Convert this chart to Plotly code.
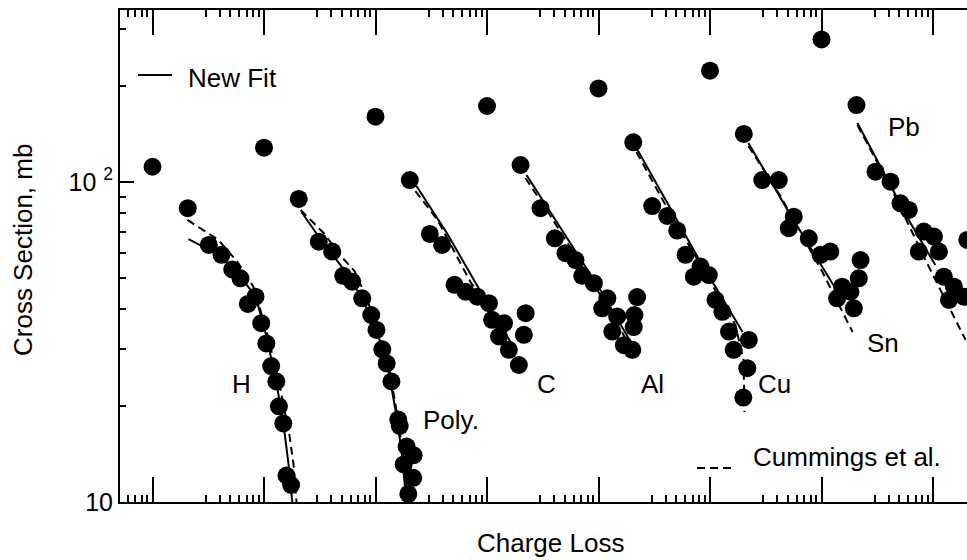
import plotly.graph_objects as go

# ---------------- data ----------------
targets = ["H", "Poly.", "C", "Al", "Cu", "Sn", "Pb"]
offsets = [1, 10, 100, 1000, 10000, 100000, 1000000]   # horizontal shift of each target (decades)
total_cs = [111.6, 128, 160, 172.8, 196, 222.8, 279]    # large dot at charge loss 1

H_dz = [2.07, 3.20, 4.16, 5.19, 6.15, 7.16, 8.39, 9.44, 10.5, 11.6, 12.9, 13.6, 14.9, 15.9, 17.5]
H_cs = [82.8, 63.6, 59.2, 53.3, 50.0, 41.6, 43.8, 36.2, 31.3, 26.6, 23.8, 19.9, 17.6, 12.1, 11.3]
Poly_dz = [2.05, 3.10, 4.09, 5.13, 6.18, 7.60, 9.15, 10.2, 11.5, 12.6, 13.9, 16.0, 16.5, 17.9, 19.0, 19.7, 21.8, 22.0]
Poly_cs = [88.5, 65.1, 60.6, 50.9, 48.8, 43.3, 38.4, 34.5, 30.0, 27.1, 23.8, 18.1, 17.3, 13.1, 14.9, 10.6, 11.9, 14.0]
C_dz = [2.03, 3.07, 3.96, 5.11, 6.42, 8.17, 10.4, 11.1, 12.8, 14.2, 15.7, 19.3, 21.4, 22.2]
C_cs = [101.4, 68.8, 63.6, 47.7, 45.4, 43.8, 41.8, 37.1, 32.9, 36.2, 29.9, 26.8, 33.3, 38.9]
Al_dz = [2.0, 3.02, 4.06, 5.06, 6.22, 7.14, 9.08, 10.8, 12.0, 13.3, 14.7, 16.9, 20.1, 20.7, 21.0, 22.2]
Al_cs = [113.0, 82.8, 66.7, 59.9, 57.0, 50.9, 48.3, 40.3, 43.3, 34.1, 38.0, 30.9, 29.9, 35.2, 38.4, 43.7]
Cu_dz = [2.05, 3.03, 4.13, 5.08, 6.03, 7.16, 8.22, 9.76, 11.2, 12.9, 14.8, 16.3, 19.9, 21.6, 22.3]
Cu_cs = [133.0, 84.1, 78.3, 70.5, 59.2, 50.6, 54.4, 51.2, 42.8, 39.3, 34.1, 29.9, 21.2, 26.2, 32.1]
Sn_dz = [2.01, 2.94, 4.14, 5.09, 5.64, 7.69, 9.80, 12.0, 13.8, 15.3, 18.2, 19.5, 21.6, 22.4]
Sn_cs = [141.3, 101.4, 101.4, 71.7, 77.9, 66.7, 59.2, 60.6, 43.3, 47.1, 45.4, 40.3, 50.0, 57.0]
Pb_dz = [2.06, 3.05, 4.16, 5.11, 6.07, 7.46, 8.27, 10.2, 11.3, 12.5, 13.9, 15.4, 18.9, 20.3]
Pb_cs = [174.0, 107.7, 100.2, 85.8, 81.8, 60.6, 70.0, 67.5, 60.6, 50.6, 42.8, 47.1, 43.8, 65.9]

# "New Fit" curves (solid)
H_fit_dz = [2.10, 2.87, 4.16, 6.15, 8.39, 10.5, 12.9, 15.0, 16.6, 18.0]
H_fit_cs = [66.3, 62.7, 58.3, 50.5, 44.0, 33.0, 23.7, 17.4, 13.1, 9.9]
Poly_fit_dz = [2.17, 3.02, 4.85, 7.33, 10.2, 12.8, 15.1, 17.1, 19.0]
Poly_fit_cs = [80.6, 68.3, 55.0, 44.3, 34.5, 26.8, 19.4, 14.5, 9.9]
C_fit_dz = [2.33, 4.42, 8.39, 13.2, 16.9]
C_fit_cs = [97.2, 68.8, 46.6, 35.7, 30.9]
Al_fit_dz = [2.26, 5.61, 10.4, 18.6]
Al_fit_cs = [105.2, 64.5, 46.0, 32.5]
Cu_fit_dz = [2.19, 3.99, 8.22, 19.6]
Cu_fit_cs = [127.7, 87.8, 56.2, 34.0]
Sn_fit_dz = [2.21, 5.27, 13.1]
Sn_fit_cs = [132.4, 78.9, 47.0]
Pb_fit_dz = [2.10, 4.16, 6.28, 10.5]
Pb_fit_cs = [152.9, 97.9, 74.5, 55.0]

# "Cummings et al." curves (dashed)
H_cum_dz = [2.06, 2.69, 3.91, 5.79, 8.05, 10.5, 13.8, 16.9, 18.4, 19.6]
H_cum_cs = [76.1, 71.8, 65.9, 56.2, 47.0, 34.5, 23.2, 16.2, 13.1, 9.9]
Poly_cum_dz = [2.13, 2.72, 3.42, 5.06, 6.48, 8.13, 10.4, 13.1, 15.4, 17.5, 19.4]
Poly_cum_cs = [81.8, 75.0, 69.3, 57.9, 52.7, 44.3, 35.0, 26.8, 19.4, 14.5, 9.9]
C_cum_dz = [2.28, 3.60, 7.11, 15.3]
C_cum_cs = [93.7, 76.1, 48.7, 34.0]
Al_cum_dz = [2.21, 3.35, 5.38, 10.0, 17.8]
Al_cum_cs = [102.9, 82.9, 63.6, 45.3, 32.1]
Cu_cum_dz = [2.19, 3.99, 8.22, 16.9, 20.0, 20.4]
Cu_cum_cs = [124.1, 84.7, 55.0, 35.7, 27.8, 19.1]
Sn_cum_dz = [2.21, 4.29, 10.2, 19.0]
Sn_cum_cs = [129.6, 90.4, 52.3, 34.0]
Pb_cum_dz = [2.10, 4.42, 8.57, 19.6]
Pb_cum_cs = [150.6, 92.4, 57.0, 32.1]

y_tick_vals = [10, 100]
y_tick_text = ["10", "10 <sup>2</sup>"]

points = [(H_dz, H_cs), (Poly_dz, Poly_cs), (C_dz, C_cs), (Al_dz, Al_cs),
          (Cu_dz, Cu_cs), (Sn_dz, Sn_cs), (Pb_dz, Pb_cs)]
fits = [(H_fit_dz, H_fit_cs), (Poly_fit_dz, Poly_fit_cs), (C_fit_dz, C_fit_cs), (Al_fit_dz, Al_fit_cs),
        (Cu_fit_dz, Cu_fit_cs), (Sn_fit_dz, Sn_fit_cs), (Pb_fit_dz, Pb_fit_cs)]
cums = [(H_cum_dz, H_cum_cs), (Poly_cum_dz, Poly_cum_cs), (C_cum_dz, C_cum_cs), (Al_cum_dz, Al_cum_cs),
        (Cu_cum_dz, Cu_cum_cs), (Sn_cum_dz, Sn_cum_cs), (Pb_cum_dz, Pb_cum_cs)]

# ---------------- figure ----------------
W, Hgt = 967, 560
ML, MR, MT, MB = 120, 0, 10, 58
PW, PH = W - ML - MR, Hgt - MT - MB
FONT = "Liberation Sans, Arial, Helvetica, sans-serif"

def px(xp):
    return (xp - ML) / PW

def py(yp):
    return (Hgt - MB - yp) / PH

x0_px = 152.5
dec_px = 111.5
x_range = [(ML - x0_px) / dec_px, (W - MR - x0_px) / dec_px]
y_range = [1.0, 1.0 + PH / 320.0]

fig = go.Figure()

for k, off in enumerate(offsets):
    fx, fy = fits[k]
    cx, cy = cums[k]
    fig.add_trace(go.Scatter(x=[v * off for v in cx], y=cy, mode="lines",
                             line=dict(color="black", width=2, dash="8px,5px"),
                             showlegend=False, hoverinfo="skip"))
    fig.add_trace(go.Scatter(x=[v * off for v in fx], y=fy, mode="lines",
                             line=dict(color="black", width=2),
                             showlegend=False, hoverinfo="skip"))
    dx, dy = points[k]
    fig.add_trace(go.Scatter(x=[off] + [v * off for v in dx], y=[total_cs[k]] + dy,
                             mode="markers", name=targets[k],
                             marker=dict(color="black", size=18, line=dict(width=0)),
                             showlegend=False))

major_x = [10 ** k for k in range(0, 8)]
minor_x = [m * 10 ** k for k in range(-1, 8) for m in range(3, 10)] + [0.5]
two_x = [2 * 10 ** k for k in range(0, 8)]

axis_common = dict(type="log", showgrid=False, zeroline=False)

fig.update_layout(
    width=W, height=Hgt,
    margin=dict(l=ML, r=MR, t=MT, b=MB, pad=0),
    paper_bgcolor="white", plot_bgcolor="white",
    font=dict(family=FONT, color="black", size=26),
    xaxis=dict(**axis_common, range=x_range, showline=True, linecolor="black", linewidth=2,
               mirror="allticks", ticks="inside", ticklen=25, tickwidth=1.5, tickcolor="black",
               tickmode="array", tickvals=major_x, showticklabels=False,
               minor=dict(tickmode="array", tickvals=minor_x, ticks="inside", ticklen=7,
                          tickwidth=1.5, tickcolor="black")),
    xaxis2=dict(**axis_common, range=x_range, overlaying="x", anchor="y", side="bottom",
                showline=False, mirror="allticks", ticks="inside", ticklen=11, tickwidth=1.5,
                tickcolor="black", tickmode="array", tickvals=two_x, showticklabels=False),
    yaxis=dict(**axis_common, range=y_range, showline=True, linecolor="black", linewidth=2,
               mirror=False, ticks="inside", ticklen=14, tickwidth=1.5, tickcolor="black",
               tickmode="array", tickvals=y_tick_vals, ticktext=y_tick_text,
               tickfont=dict(size=25, family=FONT, color="black"),
               minor=dict(tickmode="array", tickvals=[20, 30, 40, 50, 60, 70, 80, 90, 200, 300],
                          ticks="inside", ticklen=6, tickwidth=1.5, tickcolor="black")),
)

annotations = []
# axis titles
annotations.append(dict(text="Charge Loss", x=px(550), y=py(543), xref="paper", yref="paper",
                        showarrow=False, xanchor="center", yanchor="middle", font=dict(size=26)))
annotations.append(dict(text="Cross Section, mb", x=px(23), y=py(250), xref="paper", yref="paper",
                        showarrow=False, textangle=-90, xanchor="center", yanchor="middle",
                        font=dict(size=26)))
# target labels
label_pos = [(241.5, 384), (451, 420), (546, 384), (652, 384), (774, 384), (883, 343), (904, 127)]
for name, (lx, ly) in zip(targets, label_pos):
    annotations.append(dict(text=name, x=px(lx), y=py(ly), xref="paper", yref="paper",
                            showarrow=False, xanchor="center", yanchor="middle", font=dict(size=26)))
# legend texts
annotations.append(dict(text="New Fit", x=px(186), y=py(78), xref="paper", yref="paper",
                        showarrow=False, xanchor="left", yanchor="middle", font=dict(size=26)))
annotations.append(dict(text="Cummings et al.", x=px(751), y=py(457), xref="paper", yref="paper",
                        showarrow=False, xanchor="left", yanchor="middle", font=dict(size=26)))
fig.update_layout(annotations=annotations)

fig.add_shape(type="line", xref="paper", yref="paper", x0=px(138), x1=px(172), y0=py(75), y1=py(75),
              line=dict(color="black", width=2))
fig.add_shape(type="line", xref="paper", yref="paper", x0=px(697), x1=px(734), y0=py(468), y1=py(468),
              line=dict(color="black", width=2, dash="8px,5px"))

fig.write_html("out.html", config={"displayModeBar": False},
               post_script="document.body.style.margin='0';document.body.style.overflow='hidden';")
